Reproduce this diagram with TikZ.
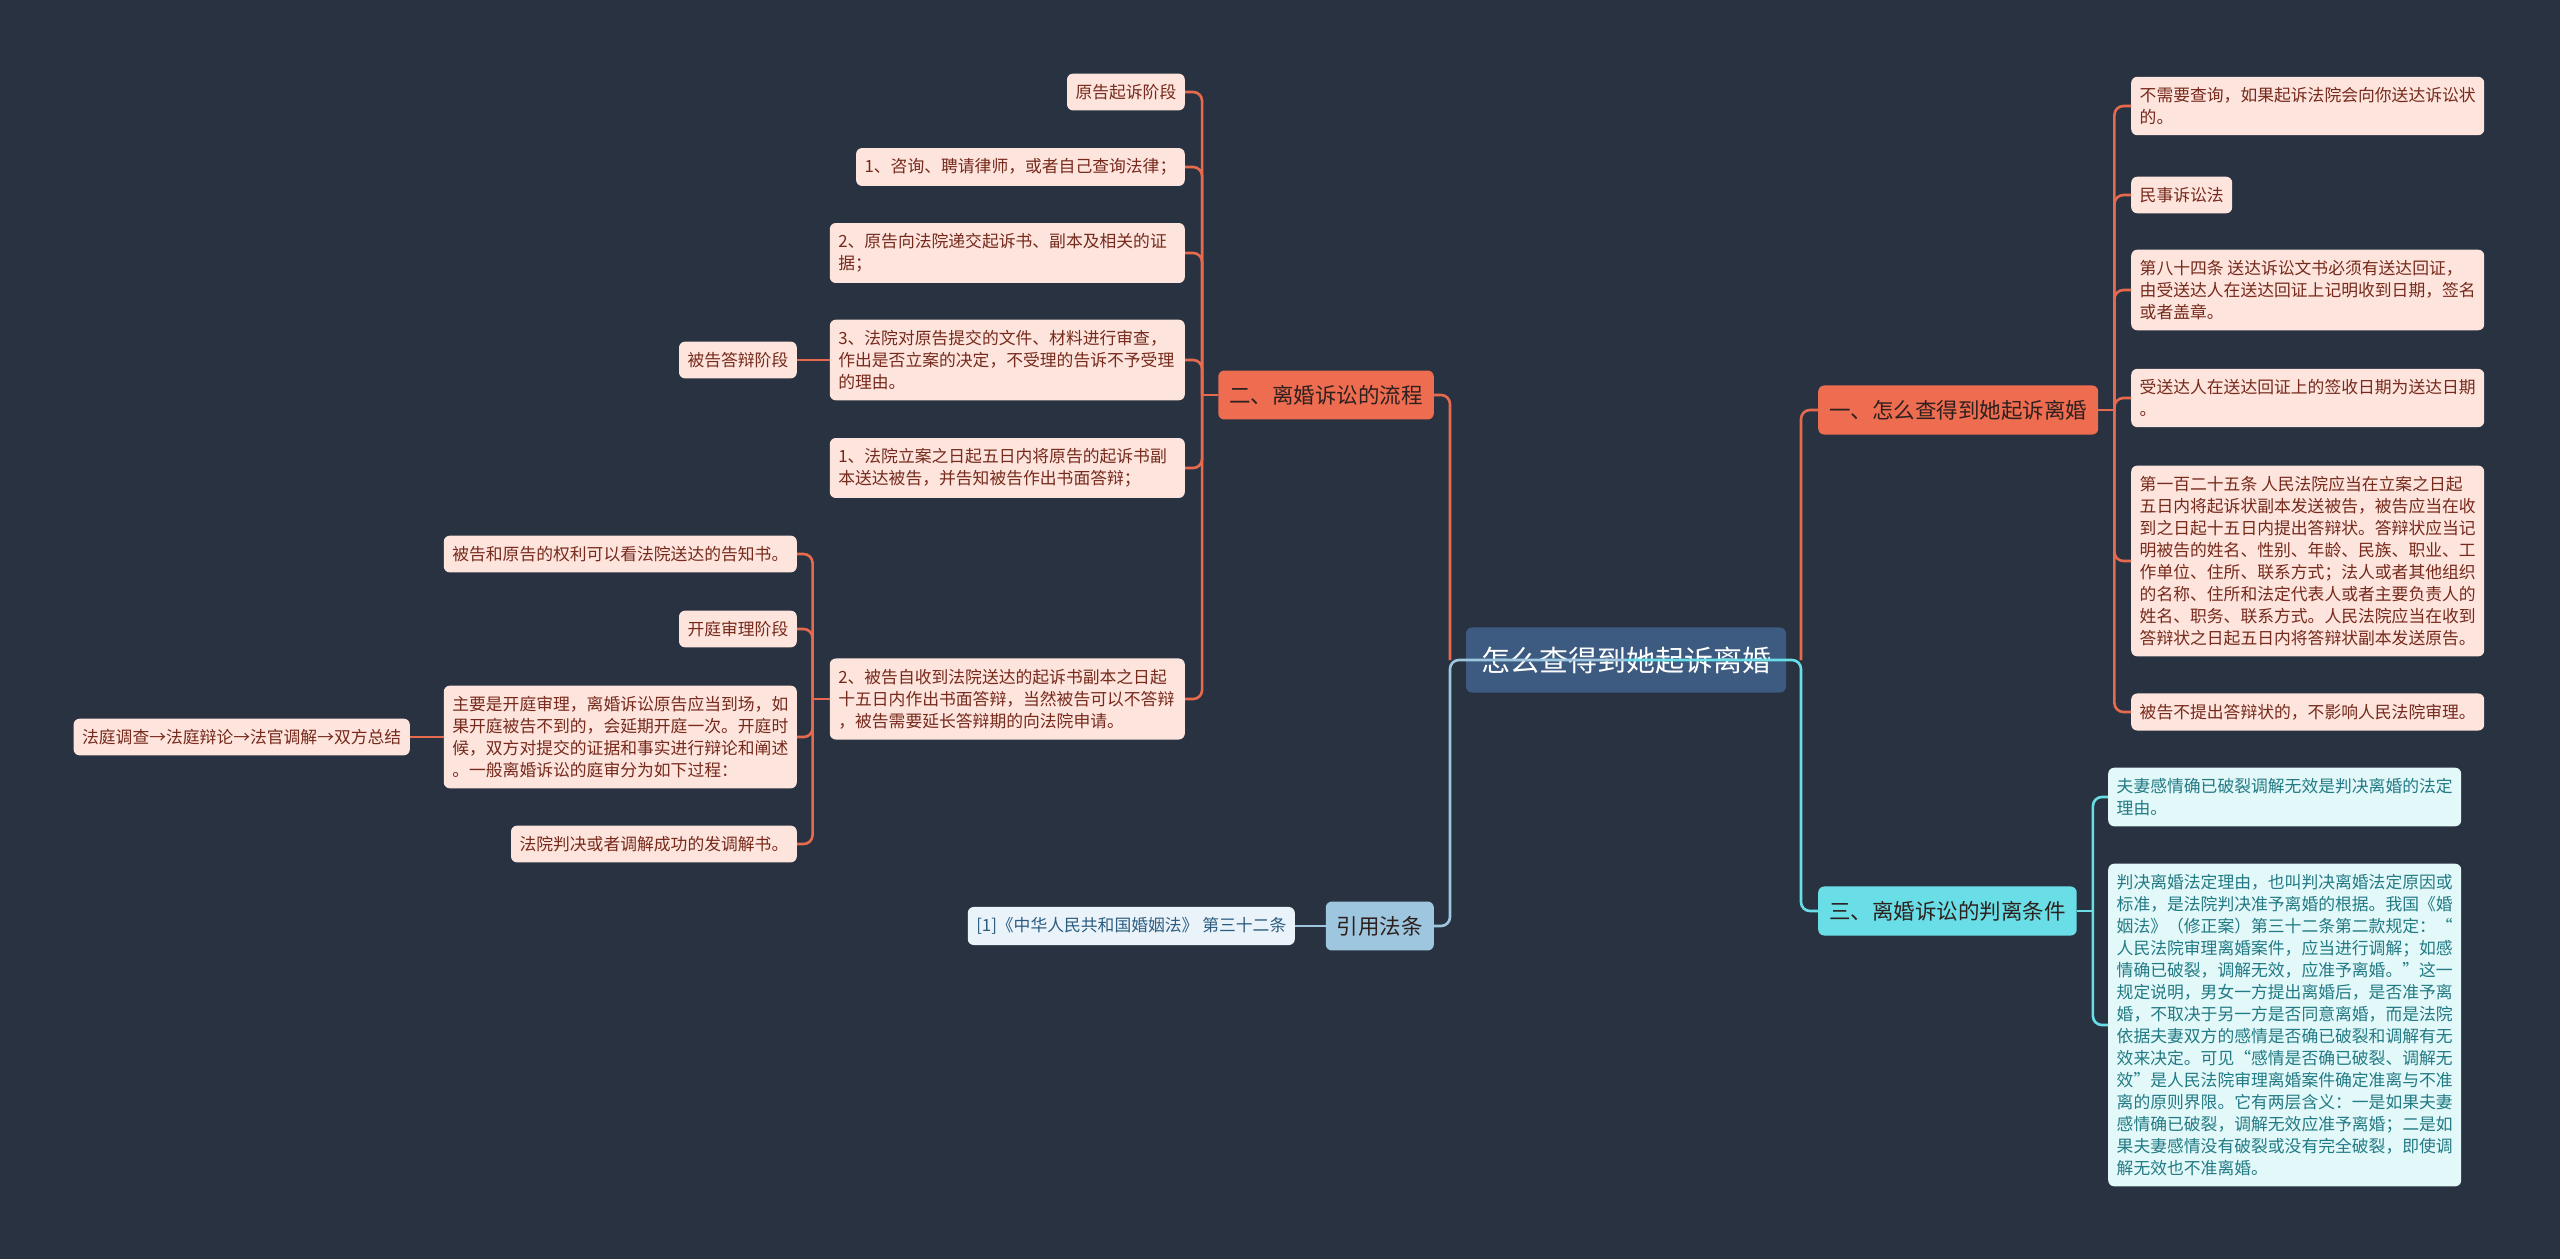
\documentclass[tikz,border=0pt]{standalone}
\usepackage{fontspec}
\newfontfamily\cjk{Noto Sans CJK SC}
\usepackage{tikz}
\usetikzlibrary{positioning}
\usepackage{xcolor}
\definecolor{bgnavy}{RGB}{41,50,65}
\definecolor{rootblue}{RGB}{61,90,128}
\definecolor{coral}{RGB}{238,108,80}
\definecolor{coralline}{RGB}{232,106,78}
\definecolor{peach}{RGB}{253,228,221}
\definecolor{rust}{RGB}{118,42,28}
\definecolor{aqua}{RGB}{106,222,230}
\definecolor{aquapale}{RGB}{226,248,249}
\definecolor{tealtext}{RGB}{34,122,132}
\definecolor{skyblue}{RGB}{158,198,222}
\definecolor{skypale}{RGB}{234,243,249}
\definecolor{navytext}{RGB}{44,92,128}
\definecolor{inkdark}{RGB}{45,32,30}

\begin{document}
\begin{tikzpicture}[x=1pt,y=-1pt,
  rootbox/.style={fill=rootblue,text=white,rounded corners=6pt,inner xsep=15pt,inner ysep=19pt,font=\cjk\fontsize{29}{34}\selectfont},
  topic/.style={rounded corners=6pt,inner xsep=11pt,inner ysep=14.5pt,text=inkdark,font=\cjk\fontsize{21.5}{26}\selectfont},
  leaf/.style={rounded corners=6pt,inner xsep=8.5pt,inner ysep=10.5pt,align=left,font=\cjk\fontsize{16.8}{22}\selectfont},
  redleaf/.style={leaf,fill=peach,text=rust},
  wideleaf/.style={redleaf,text width=338pt},
  cyanleaf/.style={leaf,fill=aquapale,text=tealtext},
  blueleaf/.style={leaf,fill=skypale,text=navytext},
  redlink/.style={draw=coralline,line width=2.6pt,rounded corners=9pt},
  cyanlink/.style={draw=aqua,line width=2.6pt,rounded corners=9pt},
  bluelink/.style={draw=skyblue,line width=2.6pt,rounded corners=9pt}]
\useasboundingbox (0,0) rectangle (2560,1259);
\fill[bgnavy] (0,0) rectangle (2560,1259);
% Root and main topics
\node[rootbox] (root) at (1626,660) {怎么查得到她起诉离婚};
\node[topic,fill=coral,anchor=west] (one) at (1818,410) {一、怎么查得到她起诉离婚};
\node[topic,fill=aqua,anchor=west] (three) at (1818,911) {三、离婚诉讼的判离条件};
\node[topic,fill=coral,anchor=east] (two) at (1434,395) {二、离婚诉讼的流程};
\node[topic,fill=skyblue,anchor=east] (cite) at (1434,926) {引用法条};
% Topic one
\node[redleaf,anchor=west] (r1) at (2131,106) {不需要查询，如果起诉法院会向你送达诉讼状\\的。};
\node[redleaf,anchor=west] (r2) at (2131,195) {民事诉讼法};
\node[redleaf,anchor=west] (r3) at (2131,290) {第八十四条 送达诉讼文书必须有送达回证，\\由受送达人在送达回证上记明收到日期，签名\\或者盖章。};
\node[redleaf,anchor=west] (r4) at (2131,398) {受送达人在送达回证上的签收日期为送达日期\\。};
\node[redleaf,anchor=west] (r5) at (2131,561) {第一百二十五条 人民法院应当在立案之日起\\五日内将起诉状副本发送被告，被告应当在收\\到之日起十五日内提出答辩状。答辩状应当记\\明被告的姓名、性别、年龄、民族、职业、工\\作单位、住所、联系方式；法人或者其他组织\\的名称、住所和法定代表人或者主要负责人的\\姓名、职务、联系方式。人民法院应当在收到\\答辩状之日起五日内将答辩状副本发送原告。};
\node[redleaf,anchor=west] (r6) at (2131,712) {被告不提出答辩状的，不影响人民法院审理。};
% Topic three
\node[cyanleaf,anchor=west] (t1) at (2108,797) {夫妻感情确已破裂调解无效是判决离婚的法定\\理由。};
\node[cyanleaf,anchor=west] (t2) at (2108,1025) {判决离婚法定理由，也叫判决离婚法定原因或\\标准，是法院判决准予离婚的根据。我国《婚\\姻法》（修正案）第三十二条第二款规定：“\\人民法院审理离婚案件，应当进行调解；如感\\情确已破裂，调解无效，应准予离婚。”这一\\规定说明，男女一方提出离婚后，是否准予离\\婚，不取决于另一方是否同意离婚，而是法院\\依据夫妻双方的感情是否确已破裂和调解有无\\效来决定。可见“感情是否确已破裂、调解无\\效”是人民法院审理离婚案件确定准离与不准\\离的原则界限。它有两层含义：一是如果夫妻\\感情确已破裂，调解无效应准予离婚；二是如\\果夫妻感情没有破裂或没有完全破裂，即使调\\解无效也不准离婚。};
% Topic two
\node[redleaf,anchor=east] (l1) at (1185,92) {原告起诉阶段};
\node[redleaf,anchor=east] (l2) at (1185,167) {1、咨询、聘请律师，或者自己查询法律；};
\node[wideleaf,anchor=east] (l3) at (1185,253) {2、原告向法院递交起诉书、副本及相关的证\\据；};
\node[wideleaf,anchor=east] (l4) at (1185,360) {3、法院对原告提交的文件、材料进行审查，\\作出是否立案的决定，不受理的告诉不予受理\\的理由。};
\node[wideleaf,anchor=east] (l5) at (1185,468) {1、法院立案之日起五日内将原告的起诉书副\\本送达被告，并告知被告作出书面答辩；};
\node[wideleaf,anchor=east] (l6) at (1185,699) {2、被告自收到法院送达的起诉书副本之日起\\十五日内作出书面答辩，当然被告可以不答辩\\，被告需要延长答辩期的向法院申请。};
\node[redleaf,anchor=east] (l4a) at (797,360) {被告答辩阶段};
\node[redleaf,anchor=east] (l6a) at (797,554) {被告和原告的权利可以看法院送达的告知书。};
\node[redleaf,anchor=east] (l6b) at (797,629) {开庭审理阶段};
\node[redleaf,anchor=east] (l6c) at (797,737) {主要是开庭审理，离婚诉讼原告应当到场，如\\果开庭被告不到的，会延期开庭一次。开庭时\\候，双方对提交的证据和事实进行辩论和阐述\\。一般离婚诉讼的庭审分为如下过程：};
\node[redleaf,anchor=east] (l6d) at (797,844) {法院判决或者调解成功的发调解书。};
\node[redleaf,anchor=east] (l6c1) at (410,737) {法庭调查→法庭辩论→法官调解→双方总结};
% Cited law
\node[blueleaf,anchor=east] (cite1) at (1295,926) {[1]《中华人民共和国婚姻法》 第三十二条};
% Connectors from the root
\coordinate (rjr) at ([xshift=-17pt]one.west |- root.center);
\coordinate (rjl) at ([xshift=16pt]two.east |- root.center);
\draw[redlink] (rjr) |- (one.west);
\draw[redlink] (rjl) |- (two.east);
\draw[bluelink] (root.center) -- (rjl) |- (cite.east);
\draw[cyanlink] (root.center) -- (rjr) |- (three.west);
% Connectors of topic one
\draw[redlink] (one.east) -- ++(16,0);
\foreach \c in {r1,r2,r3,r4,r5,r6}
  \draw[redlink] ([xshift=16pt]one.east) |- (\c.west);
% Connectors of topic three
\draw[cyanlink] (three.east) -- ++(16,0);
\foreach \c in {t1,t2}
  \draw[cyanlink] ([xshift=16pt]three.east) |- (\c.west);
% Connectors of topic two
\draw[redlink] (two.west) -- ++(-16,0);
\foreach \c in {l1,l2,l3,l4,l5,l6}
  \draw[redlink] ([xshift=-16pt]two.west) |- (\c.east);
\draw[redlink] (l4.west) -- (l4a.east);
\draw[redlink] (l6.west) -- ++(-17,0);
\foreach \c in {l6a,l6b,l6c,l6d}
  \draw[redlink] ([xshift=-17pt]l6.west) |- (\c.east);
\draw[redlink] (l6c.west) -- (l6c1.east);
% Connector of the cited law
\draw[bluelink] (cite.west) -- (cite1.east);
\end{tikzpicture}
\end{document}
